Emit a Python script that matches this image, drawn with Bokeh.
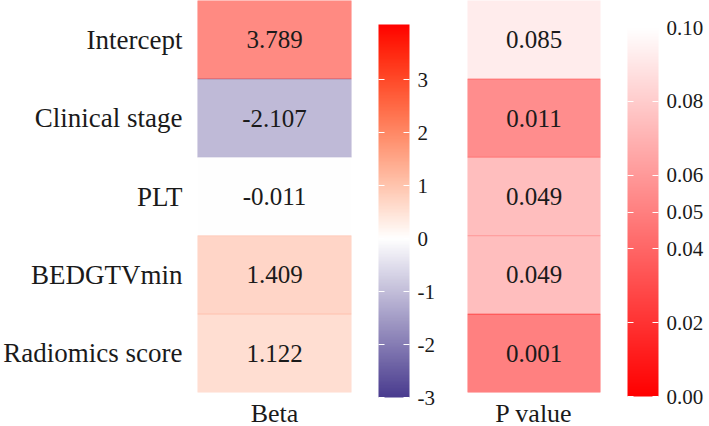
from bokeh.plotting import figure
from bokeh.models import (ColumnDataSource, LinearColorMapper, ColorBar, FixedTicker,
                          PrintfTickFormatter)
from bokeh.layouts import row
from bokeh.transform import transform
from bokeh.core.properties import value
from bokeh.embed import file_html
from bokeh.resources import INLINE

# ---- data ----
variables = ["Intercept", "Clinical stage", "PLT", "BEDGTVmin", "Radiomics score"]
beta = [3.789, -2.107, -0.011, 1.409, 1.122]
pvals = [0.085, 0.011, 0.049, 0.049, 0.001]
beta_ticks = [-3, -2, -1, 0, 1, 2, 3]
p_ticks = [0.00, 0.02, 0.04, 0.05, 0.06, 0.08, 0.10]
beta_col = ["Beta"]
p_col = ["P value"]

FONT = "'Liberation Serif', 'Times New Roman', 'DejaVu Serif', serif"
TXT = "#1a1a1a"

# ---- palettes ----
def hexc(r, g, b):
    return "#%02x%02x%02x" % (int(round(r)), int(round(g)), int(round(b)))

B_LOW, B_HIGH = -3.0, 4.04
N = 256
beta_palette = []
for i in range(N):
    v = B_LOW + (B_HIGH - B_LOW) * (i + 0.5) / N
    if v >= 0:
        t = min(v / B_HIGH, 1.0)
        beta_palette.append(hexc(255, 255 * (1 - t) ** 0.92, 255 * (1 - t) ** 1.35))
    else:
        t = min(-v / 3.0, 1.0)
        pr, pg, pb = 72, 58, 142
        beta_palette.append(hexc(255 + (pr - 255) * t, 255 + (pg - 255) * t, 255 + (pb - 255) * t))

p_palette = []
for i in range(N):
    t = i / (N - 1)
    p_palette.append(hexc(255, 255 * t, 255 * t))

beta_mapper = LinearColorMapper(palette=beta_palette, low=B_LOW, high=B_HIGH)
p_mapper = LinearColorMapper(palette=p_palette, low=0.0, high=0.10)

rows_factors = list(reversed(variables))


def base_fig(xcol, fw, left_border, right_border, show_y):
    p = figure(x_range=xcol, y_range=rows_factors,
               frame_width=fw, frame_height=392,
               min_border_left=left_border, min_border_right=right_border,
               min_border_top=0, min_border_bottom=30,
               output_backend="svg", toolbar_location=None)
    p.outline_line_color = None
    p.xgrid.grid_line_color = None
    p.ygrid.grid_line_color = None
    p.background_fill_color = "white"
    p.border_fill_color = "white"
    for ax in (p.xaxis, p.yaxis):
        ax.axis_line_color = None
        ax.major_tick_line_color = None
        ax.minor_tick_line_color = None
        ax.major_label_text_font = FONT
        ax.major_label_text_font_size = "27px"
        ax.major_label_text_color = TXT
    p.xaxis.major_label_text_font_size = "26px"
    p.xaxis.major_label_standoff = 0
    p.yaxis.major_label_standoff = 9
    p.y_range.range_padding = 0
    p.x_range.range_padding = 0
    if not show_y:
        p.yaxis.visible = False
    return p


def add_cells(p, col, vals, mapper):
    src = ColumnDataSource(dict(x=[col[0]] * len(vals), y=variables, v=vals,
                                lab=["%.3f" % v for v in vals]))
    p.rect(x="x", y="y", width=1, height=1, source=src,
           fill_color=transform("v", mapper), fill_alpha=0.5,
           line_color=transform("v", mapper), line_alpha=0.35, line_width=1)
    p.text(x="x", y="y", text="lab", source=src, text_align="center",
           text_baseline="middle", text_font=value(FONT), text_font_size="25px",
           text_color=TXT)


def add_bar(p, mapper, ticks, fmt, h, loc):
    cb = ColorBar(color_mapper=mapper, ticker=FixedTicker(ticks=ticks),
                  formatter=PrintfTickFormatter(format=fmt),
                  width=31, height=h, location=loc, margin=0, padding=0,
                  major_tick_in=31, major_tick_out=0,
                  major_tick_line_color="white", major_tick_line_width=1,
                  major_tick_line_dash="6 19",
                  minor_tick_line_color=None, bar_line_color=None,
                  border_line_color=None, background_fill_color=None,
                  label_standoff=8,
                  major_label_text_font=FONT, major_label_text_font_size="21px",
                  major_label_text_color=TXT)
    p.add_layout(cb, "right")
    return cb


p1 = base_fig(beta_col, 154, 192, 109, True)
add_cells(p1, beta_col, beta, beta_mapper)
add_bar(p1, beta_mapper, beta_ticks, "%d", 373, (27, -5))

p2 = base_fig(p_col, 133, 7, 114, False)
add_cells(p2, p_col, pvals, p_mapper)
add_bar(p2, p_mapper, p_ticks, "%.2f", 369, (27, -4))

layout = row(p1, p2, spacing=0)
open("out.html", "w").write(file_html(layout, INLINE))
